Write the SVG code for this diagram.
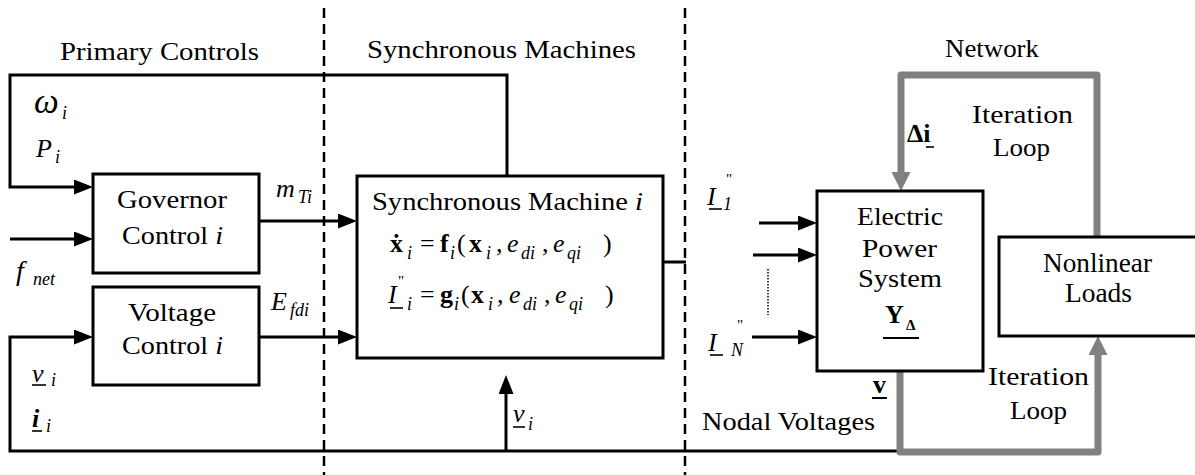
<svg xmlns="http://www.w3.org/2000/svg" width="1195" height="475" viewBox="0 0 1195 475" font-family="'Liberation Serif', 'DejaVu Serif', 'Noto Serif', serif">
<style>
.box{fill:#fff;stroke:#000;stroke-width:3}
.wire{fill:none;stroke:#000;stroke-width:3}
.loop{fill:none;stroke:#808080;stroke-width:7;stroke-linejoin:round}
.dash{fill:none;stroke:#000;stroke-width:2.5;stroke-dasharray:10 6}
.ul{stroke:#000;stroke-width:1.6}
text{font-family:'Liberation Serif','DejaVu Serif','Noto Serif',serif;fill:#000}
.t{font-size:26px}
.tn{font-size:27px}
.m{font-size:26px;font-style:italic}
.s{font-size:18px;font-style:italic}
.su{font-size:18px}
.b{font-size:26px;font-weight:bold}
.r{font-size:26px}
.pp{font-size:15px;font-style:normal;font-weight:normal}
</style>
<defs>
<marker id="arr" markerUnits="userSpaceOnUse" markerWidth="20" markerHeight="16" refX="9" refY="7.5" orient="auto"><path d="M0,0 L19,7.5 L0,15 z" fill="#000"/></marker>
<marker id="arrg" markerUnits="userSpaceOnUse" markerWidth="20" markerHeight="20" refX="9" refY="9.5" orient="auto"><path d="M0,0 L19,9.5 L0,19 z" fill="#808080"/></marker>
</defs>
<rect width="1195" height="475" fill="#fff"/>

<g id="dividers">
<line class="dash" x1="324" y1="8" x2="324" y2="475"/>
<line class="dash" x1="685" y1="8" x2="685" y2="475"/>
</g>

<g id="section-labels">
<text class="t" x="60" y="60" textLength="199" lengthAdjust="spacingAndGlyphs">Primary Controls</text>
<text class="t" x="367" y="58" textLength="269" lengthAdjust="spacingAndGlyphs">Synchronous Machines</text>
<text class="t" x="945" y="57" textLength="94" lengthAdjust="spacingAndGlyphs">Network</text>
</g>

<g id="connectors">
<path class="wire" d="M507,176 L507,75 L10,75 L10,187 L83,187" marker-end="url(#arr)"/>
<path class="wire" d="M10,239 L83,239" marker-end="url(#arr)"/>
<path class="wire" d="M259,221 L347,221" marker-end="url(#arr)"/>
<path class="wire" d="M259,337 L347,337" marker-end="url(#arr)"/>
<path class="wire" d="M897,451 L10,451 L10,337 L83,337" marker-end="url(#arr)"/>
<path class="wire" d="M506,451 L506,385" marker-end="url(#arr)"/>
<path class="wire" d="M663,262 L686,262"/>
<path class="wire" d="M759,223 L807,223" marker-end="url(#arr)"/>
<path class="wire" d="M753,255 L807,255" marker-end="url(#arr)"/>
<path class="wire" d="M752,337 L807,337" marker-end="url(#arr)"/>
<line x1="768" y1="269" x2="768" y2="315" stroke="#000" stroke-width="1.5" stroke-dasharray="1.5 1.5"/>
<path class="loop" d="M1097,237 L1097,75 L901,75 L901,181" marker-end="url(#arrg)"/>
<path class="loop" d="M900,371 L900,452 L1098,452 L1098,346" marker-end="url(#arrg)"/>
</g>

<g id="governor">
<rect class="box" x="93" y="174" width="166" height="99"/>
<text class="t" x="117" y="208" textLength="110" lengthAdjust="spacingAndGlyphs">Governor</text>
<text class="t" x="122" y="244" textLength="101" lengthAdjust="spacingAndGlyphs">Control <tspan font-style="italic">i</tspan></text>
</g>

<g id="voltage">
<rect class="box" x="93" y="287" width="166" height="98"/>
<text class="t" x="128" y="321" textLength="88" lengthAdjust="spacingAndGlyphs">Voltage</text>
<text class="t" x="122" y="354" textLength="101" lengthAdjust="spacingAndGlyphs">Control <tspan font-style="italic">i</tspan></text>
</g>

<g id="machine">
<rect class="box" x="357" y="176" width="306" height="182"/>
<text class="t" x="372" y="210" textLength="271" lengthAdjust="spacingAndGlyphs">Synchronous Machine <tspan font-style="italic">i</tspan></text>
<text class="r"><tspan x="390" y="252" font-weight="bold">x&#x307;</tspan><tspan x="407" y="259" class="s">i</tspan><tspan x="420" y="252">=</tspan><tspan x="440" y="252" font-weight="bold">f</tspan><tspan x="450" y="259" class="s">i</tspan><tspan x="457" y="252">(</tspan><tspan x="469" y="252" font-weight="bold">x</tspan><tspan x="486" y="259" class="s">i</tspan><tspan x="496" y="252">,</tspan><tspan x="507" y="252" font-style="italic">e</tspan><tspan x="521" y="259" class="s">di</tspan><tspan x="542" y="252">,</tspan><tspan x="553" y="252" font-style="italic">e</tspan><tspan x="567" y="259" class="s">qi</tspan><tspan x="603" y="252">)</tspan></text>
<text class="r"><tspan x="388" y="303" font-style="italic">I</tspan><tspan x="398" y="286" class="pp">"</tspan><tspan x="407" y="310" class="s">i</tspan><tspan x="420" y="303">=</tspan><tspan x="440" y="303" font-weight="bold">g</tspan><tspan x="454" y="310" class="s">i</tspan><tspan x="461" y="303">(</tspan><tspan x="471" y="303" font-weight="bold">x</tspan><tspan x="488" y="310" class="s">i</tspan><tspan x="497" y="303">,</tspan><tspan x="509" y="303" font-style="italic">e</tspan><tspan x="523" y="310" class="s">di</tspan><tspan x="544" y="303">,</tspan><tspan x="555" y="303" font-style="italic">e</tspan><tspan x="569" y="310" class="s">qi</tspan><tspan x="605" y="303">)</tspan></text>
<line class="ul" x1="390" y1="308" x2="403" y2="308"/>
</g>

<g id="eps">
<rect class="box" x="817" y="191" width="166" height="180"/>
<text class="t" x="857" y="225" textLength="86" lengthAdjust="spacingAndGlyphs">Electric</text>
<text class="t" x="862" y="257" textLength="75" lengthAdjust="spacingAndGlyphs">Power</text>
<text class="t" x="858" y="287" textLength="84" lengthAdjust="spacingAndGlyphs">System</text>
<text class="b" font-size="28"><tspan x="885" y="323">Y</tspan><tspan x="906" y="330" font-size="15">Δ</tspan></text>
<line x1="883" y1="338" x2="919" y2="338" stroke="#000" stroke-width="2"/>
</g>

<g id="loads">
<rect class="box" x="999" y="237" width="210" height="99"/>
<text class="tn" x="1043" y="272" textLength="109" lengthAdjust="spacingAndGlyphs">Nonlinear</text>
<text class="tn" x="1065" y="302" textLength="67" lengthAdjust="spacingAndGlyphs">Loads</text>
</g>

<g id="labels">
<text class="m"><tspan x="34" y="113" font-size="35">ω</tspan><tspan x="62" y="119" class="s">i</tspan></text>
<text class="m"><tspan x="36" y="157">P</tspan><tspan x="55" y="163" class="s">i</tspan></text>
<text class="m"><tspan x="16" y="280" font-size="28">f</tspan><tspan x="33" y="285" class="s">net</tspan></text>
<text class="m"><tspan x="276" y="197">m</tspan><tspan x="298" y="203" class="s">Ti</tspan></text>
<text class="m"><tspan x="271" y="310">E</tspan><tspan x="290" y="316" class="s" font-size="19">fdi</tspan></text>
<text class="m"><tspan x="32" y="382">v</tspan><tspan x="51" y="386" class="s">i</tspan></text>
<line class="ul" x1="32" y1="385" x2="46" y2="385"/>
<text class="m"><tspan x="32" y="427" font-weight="bold">i</tspan><tspan x="46" y="432" class="s">i</tspan></text>
<line class="ul" x1="32" y1="431" x2="42" y2="431"/>
<text class="m"><tspan x="513" y="422">v</tspan><tspan x="528" y="430" class="s">i</tspan></text>
<line class="ul" x1="513" y1="427" x2="525" y2="427"/>
<text class="m"><tspan x="707" y="205">I</tspan><tspan x="726" y="184" class="pp">"</tspan><tspan x="723" y="210" class="su">1</tspan></text>
<line class="ul" x1="709" y1="209" x2="722" y2="209"/>
<text class="m"><tspan x="708" y="351">I</tspan><tspan x="737" y="330" class="pp">"</tspan><tspan x="731" y="356" class="s">N</tspan></text>
<line class="ul" x1="710" y1="355" x2="723" y2="355"/>
<text class="b" x="907" y="142">Δi</text>
<line class="ul" x1="926" y1="147" x2="934" y2="147"/>
<text class="b" x="873" y="393">v</text>
<line x1="872" y1="398" x2="887" y2="398" stroke="#000" stroke-width="2"/>
<text class="t" x="702" y="430" textLength="173" lengthAdjust="spacingAndGlyphs">Nodal Voltages</text>
<text class="t" x="972" y="123" textLength="101" lengthAdjust="spacingAndGlyphs">Iteration</text>
<text class="t" x="993" y="156" textLength="57" lengthAdjust="spacingAndGlyphs">Loop</text>
<text class="t" x="988" y="385" textLength="101" lengthAdjust="spacingAndGlyphs">Iteration</text>
<text class="t" x="1010" y="419" textLength="57" lengthAdjust="spacingAndGlyphs">Loop</text>
</g>
</svg>
